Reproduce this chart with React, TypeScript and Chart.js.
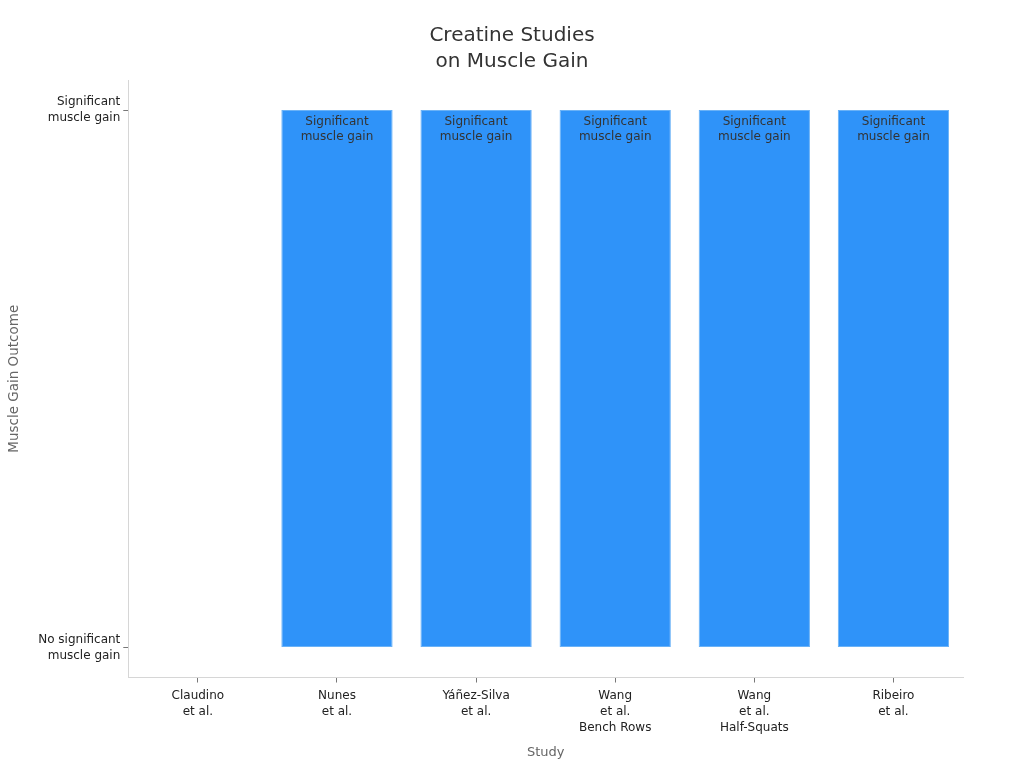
import React, { useEffect, useRef } from 'react';
import { Chart, ChartConfiguration, Plugin, registerables } from 'chart.js';

Chart.register(...registerables);

const studies: string[][] = [
  ['Claudino', 'et al.'],
  ['Nunes', 'et al.'],
  ['Yáñez-Silva', 'et al.'],
  ['Wang', 'et al.', 'Bench Rows'],
  ['Wang', 'et al.', 'Half-Squats'],
  ['Ribeiro', 'et al.'],
];

// 0 = no significant gain, 1 = significant gain
const outcomes: number[] = [0, 1, 1, 1, 1, 1];

const outcomeLabels: Record<number, string[]> = {
  0: ['No significant', 'muscle gain'],
  1: ['Significant', 'muscle gain'],
};

const titleLines = ['Creatine Studies', 'on Muscle Gain'];

const FONT = "'DejaVu Sans', sans-serif";

// title centred on the whole canvas, not on the padded area
const canvasTitle: Plugin<'bar'> = {
  id: 'canvasTitle',
  afterDraw(chart) {
    const { ctx, width } = chart;
    ctx.save();
    ctx.font = `20px ${FONT}`;
    ctx.fillStyle = '#333333';
    ctx.textAlign = 'center';
    ctx.textBaseline = 'middle';
    titleLines.forEach((line, i) => ctx.fillText(line, width / 2, 36 + i * 26));
    ctx.restore();
  },
};

// writes the outcome name at the top of each bar
const barLabels: Plugin<'bar'> = {
  id: 'barLabels',
  afterDatasetsDraw(chart) {
    const { ctx } = chart;
    const meta = chart.getDatasetMeta(0);
    ctx.save();
    ctx.font = `12px ${FONT}`;
    ctx.fillStyle = '#333333';
    ctx.textAlign = 'center';
    ctx.textBaseline = 'middle';
    meta.data.forEach((bar, i) => {
      const v = outcomes[i];
      if (!v) return;
      const { x, y } = bar.getProps(['x', 'y'], true) as { x: number; y: number };
      outcomeLabels[v].forEach((line, j) => {
        ctx.fillText(line, x, y + 12 + j * 15);
      });
    });
    ctx.restore();
  },
};

export default function App() {
  const canvasRef = useRef<HTMLCanvasElement>(null);
  const chartRef = useRef<Chart | null>(null);

  useEffect(() => {
    if (!canvasRef.current) return;
    const ctx = canvasRef.current.getContext('2d');
    if (!ctx) return;

    const config: ChartConfiguration<'bar'> = {
      type: 'bar',
      data: {
        labels: studies,
        datasets: [
          {
            data: outcomes,
            backgroundColor: '#2f93f9',
            borderColor: '#6ab2f7',
            borderWidth: (c: any) => (c.raw ? 1 : 0),
            borderSkipped: false,
            categoryPercentage: 1,
            barPercentage: 0.8,
          },
        ],
      },
      options: {
        responsive: true,
        maintainAspectRatio: false,
        animation: false,
        layout: { padding: { top: 80, right: 61, bottom: 8, left: 6 } },
        plugins: {
          legend: { display: false },
          tooltip: { enabled: false },
          title: { display: false },
        },
        scales: {
          x: {
            grid: {
              display: true,
              offset: false,
              drawOnChartArea: false,
              drawTicks: true,
              tickLength: 5,
              color: '#777777',
            },
            border: { display: true, color: '#d6d6d6' },
            ticks: {
              color: '#222222',
              font: { family: FONT, size: 12, lineHeight: 1.33 },
              padding: 5,
              maxRotation: 0,
            },
            title: {
              display: true,
              text: 'Study',
              color: '#666666',
              font: { family: FONT, size: 13 },
              padding: { top: 4, bottom: 0 },
            },
          },
          y: {
            min: -0.056,
            max: 1.056,
            afterBuildTicks: (axis) => {
              axis.ticks = [{ value: 0 }, { value: 1 }];
            },
            grid: {
              display: true,
              drawOnChartArea: false,
              drawTicks: true,
              tickLength: 5,
              color: '#777777',
            },
            border: { display: true, color: '#d6d6d6' },
            ticks: {
              color: '#222222',
              font: { family: FONT, size: 12, lineHeight: 1.33 },
              padding: 3,
              callback: (value) => outcomeLabels[Number(value)] ?? '',
            },
            title: {
              display: true,
              text: 'Muscle Gain Outcome',
              color: '#666666',
              font: { family: FONT, size: 13.5 },
              padding: { top: 0, bottom: 13 },
            },
          },
        },
      },
      plugins: [barLabels, canvasTitle],
    };

    chartRef.current = new Chart(ctx, config);

    return () => {
      chartRef.current?.destroy();
      chartRef.current = null;
    };
  }, []);

  return (
    <div style={{ position: 'absolute', left: 0, top: 0, width: 1024, height: 768, background: '#fff' }}>
      <canvas ref={canvasRef}></canvas>
    </div>
  );
}
